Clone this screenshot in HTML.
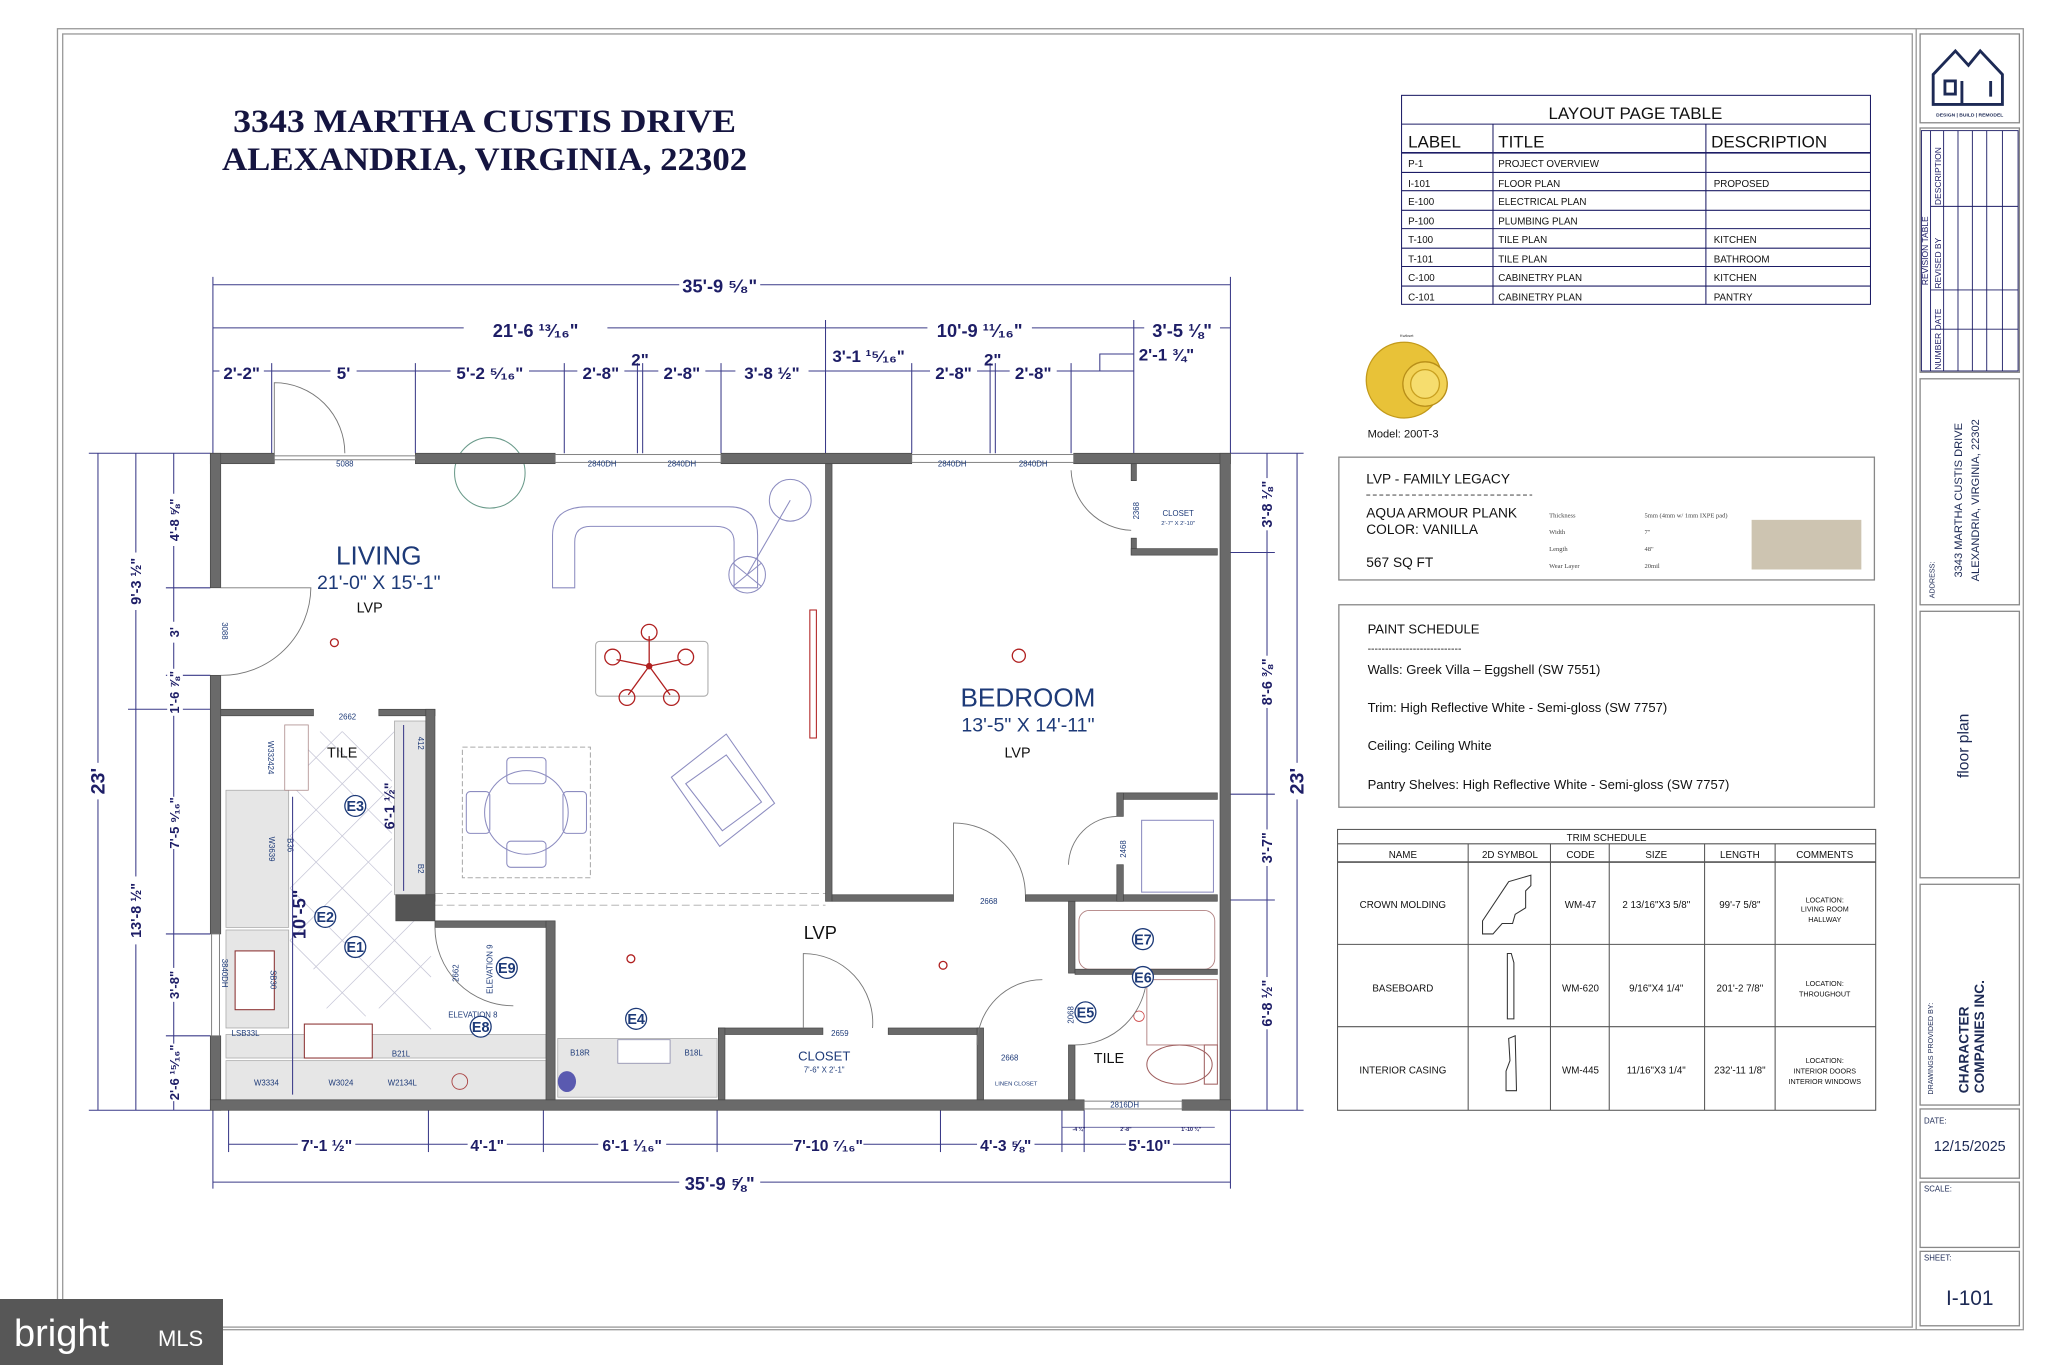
<!DOCTYPE html>
<html><head><meta charset="utf-8"><style>
html,body{margin:0;padding:0;background:#fff;width:2048px;height:1365px;overflow:hidden}
svg{display:block}
text{font-family:"Liberation Sans",sans-serif}
.serif{font-family:"Liberation Serif",serif}
.dim{font-family:"Liberation Sans Narrow","Liberation Sans",sans-serif;font-weight:bold;fill:#1d1d66}
.dl{stroke:#3a3a88;stroke-width:0.8;fill:none}
.w{fill:#6a6a6a;stroke:#444;stroke-width:0.5}
.f{fill:none;stroke:#8c8cc0;stroke-width:0.8}
.bl{fill:#1d3a78}
.sm{font-size:6px;fill:#1d3a78}
.tb{fill:none;stroke:#888;stroke-width:1}
</style></head><body>
<svg width="2048" height="1365" viewBox="0 0 2048 1365" xmlns="http://www.w3.org/2000/svg">
<rect width="2048" height="1365" fill="#fff"/>
<g transform="scale(1.3062)">
<rect x="44" y="22" width="1505" height="996" fill="none" stroke="#999" stroke-width="1"/>
<rect x="48" y="26" width="1416" height="990" fill="none" stroke="#999" stroke-width="1"/>
<line x1="1467" y1="22" x2="1467" y2="1018" stroke="#999"/>
<rect class="tb" x="1470" y="26" width="76" height="68"/>
<rect class="tb" x="1470" y="98" width="76" height="187"/>
<rect class="tb" x="1470" y="290" width="76" height="173"/>
<rect class="tb" x="1470" y="468" width="76" height="204"/>
<rect class="tb" x="1470" y="677" width="76" height="169"/>
<rect class="tb" x="1470" y="849" width="76" height="53"/>
<rect class="tb" x="1470" y="905" width="76" height="50"/>
<rect class="tb" x="1470" y="958" width="76" height="57"/>
<g fill="none" stroke="#1d2a55" stroke-width="2.2">
<path d="M1480 80 V57 L1497 39 L1507 50 L1516 39 L1533 57 V80 Z"/>
<path d="M1489 62 H1497 V72 H1489 Z M1502 62 V80 M1524 62 V74"/>
</g>
<text x="1508" y="89" font-size="3.8" text-anchor="middle" fill="#1d2a55" font-weight="bold">DESIGN | BUILD | REMODEL</text>
<g stroke="#1d1d66" stroke-width="0.7" fill="none">
<rect x="1471" y="100" width="74" height="184"/>
<line x1="1478" y1="100" x2="1478" y2="284"/><line x1="1488" y1="100" x2="1488" y2="284"/>
<line x1="1499" y1="100" x2="1499" y2="284"/><line x1="1510" y1="100" x2="1510" y2="284"/>
<line x1="1521" y1="100" x2="1521" y2="284"/><line x1="1533" y1="100" x2="1533" y2="284"/>
<line x1="1478" y1="158" x2="1545" y2="158"/><line x1="1478" y1="222" x2="1545" y2="222"/><line x1="1478" y1="252" x2="1545" y2="252"/>
</g>
<g font-size="6.5" fill="#1d1d66">
<text transform="translate(1476,192) rotate(-90)" text-anchor="middle">REVISION TABLE</text>
<text transform="translate(1486,283) rotate(-90)">NUMBER DATE</text>
<text transform="translate(1486,221) rotate(-90)">REVISED BY</text>
<text transform="translate(1486,157) rotate(-90)">DESCRIPTION</text>
</g>
<g fill="#1d2a55">
<text transform="translate(1481,458) rotate(-90)" font-size="5.5">ADDRESS:</text>
<text transform="translate(1502,383) rotate(-90)" font-size="8.5" text-anchor="middle">3343 MARTHA CUSTIS  DRIVE</text>
<text transform="translate(1515,383) rotate(-90)" font-size="8.5" text-anchor="middle">ALEXANDRIA, VIRGINIA, 22302</text>
<text transform="translate(1507,571) rotate(-90)" font-size="12" text-anchor="middle">floor plan</text>
<text transform="translate(1480,838) rotate(-90)" font-size="5.5">DRAWINGS PROVIDED BY:</text>
<text transform="translate(1507,837) rotate(-90)" font-size="10.5" font-weight="bold">CHARACTER</text>
<text transform="translate(1519,837) rotate(-90)" font-size="10.5" font-weight="bold">COMPANIES INC.</text>
<text x="1473" y="860" font-size="6">DATE:</text>
<text x="1508" y="881" font-size="11" text-anchor="middle">12/15/2025</text>
<text x="1473" y="912" font-size="6">SCALE:</text>
<text x="1473" y="965" font-size="6">SHEET:</text>
<text x="1508" y="999" font-size="16" text-anchor="middle">I-101</text>
</g>
<text class="serif" x="371" y="101" font-size="25" font-weight="bold" fill="#151540" text-anchor="middle" textLength="385" lengthAdjust="spacingAndGlyphs">3343 MARTHA CUSTIS  DRIVE</text>
<text class="serif" x="371" y="130" font-size="25" font-weight="bold" fill="#151540" text-anchor="middle" textLength="402" lengthAdjust="spacingAndGlyphs">ALEXANDRIA, VIRGINIA, 22302</text>
<g stroke="#1d1d66" stroke-width="0.8" fill="none">
<rect x="1073" y="73" width="359" height="160"/>
<line x1="1073" y1="95" x2="1432" y2="95"/><line x1="1073" y1="117" x2="1432" y2="117" stroke-width="1.3"/>
<line x1="1143" y1="95" x2="1143" y2="233"/><line x1="1306" y1="95" x2="1306" y2="233"/>
<line x1="1073" y1="132" x2="1432" y2="132"/><line x1="1073" y1="146" x2="1432" y2="146"/><line x1="1073" y1="161" x2="1432" y2="161"/><line x1="1073" y1="175" x2="1432" y2="175"/><line x1="1073" y1="190" x2="1432" y2="190"/><line x1="1073" y1="204" x2="1432" y2="204"/><line x1="1073" y1="219" x2="1432" y2="219"/>
</g>
<g fill="#111">
<text x="1252" y="91" font-size="13" text-anchor="middle">LAYOUT PAGE TABLE</text>
<text x="1078" y="113" font-size="13">LABEL</text><text x="1147" y="113" font-size="13">TITLE</text><text x="1310" y="113" font-size="13">DESCRIPTION</text>
<g font-size="7.5">
<text x="1078" y="128">P-1</text><text x="1147" y="128">PROJECT OVERVIEW</text>
<text x="1078" y="143">I-101</text><text x="1147" y="143">FLOOR PLAN</text><text x="1312" y="143">PROPOSED</text>
<text x="1078" y="157">E-100</text><text x="1147" y="157">ELECTRICAL PLAN</text>
<text x="1078" y="172">P-100</text><text x="1147" y="172">PLUMBING PLAN</text>
<text x="1078" y="186">T-100</text><text x="1147" y="186">TILE PLAN</text><text x="1312" y="186">KITCHEN</text>
<text x="1078" y="201">T-101</text><text x="1147" y="201">TILE PLAN</text><text x="1312" y="201">BATHROOM</text>
<text x="1078" y="215">C-100</text><text x="1147" y="215">CABINETRY PLAN</text><text x="1312" y="215">KITCHEN</text>
<text x="1078" y="230">C-101</text><text x="1147" y="230">CABINETRY PLAN</text><text x="1312" y="230">PANTRY</text>
</g></g>
<text x="1077" y="258" font-size="3" text-anchor="middle" fill="#333">Kwikset</text>
<circle cx="1075" cy="291" r="29" fill="#e8c238" stroke="#c39a1a"/>
<circle cx="1091" cy="294" r="17" fill="#f2d256" stroke="#b88e18"/>
<circle cx="1091" cy="294" r="11" fill="#f6dd6e" stroke="#c9a020"/>
<text x="1047" y="335" font-size="8.5" fill="#111">Model: 200T-3</text>
<rect x="1025" y="350" width="410" height="94" fill="none" stroke="#888"/>
<g fill="#111">
<text x="1046" y="370" font-size="10.5">LVP - FAMILY LEGACY</text>
<line x1="1046" y1="379" x2="1173" y2="379" stroke="#777" stroke-dasharray="3,2"/>
<text x="1046" y="396" font-size="10.5">AQUA ARMOUR PLANK</text>
<text x="1046" y="409" font-size="10.5">COLOR: VANILLA</text>
<text x="1046" y="434" font-size="10.5">567 SQ FT</text>
<g font-size="5" fill="#444">
<text class="serif" x="1186" y="396">Thickness</text><text class="serif" x="1186" y="409">Width</text><text class="serif" x="1186" y="422">Length</text><text class="serif" x="1186" y="435">Wear Layer</text>
<text class="serif" x="1259" y="396">5mm (4mm w/ 1mm IXPE pad)</text><text class="serif" x="1259" y="409">7"</text><text class="serif" x="1259" y="422">48"</text><text class="serif" x="1259" y="435">20mil</text>
</g></g>
<rect x="1341" y="398" width="84" height="38" fill="#cdc4b1"/>
<rect x="1025" y="463" width="410" height="155" fill="none" stroke="#888"/>
<g fill="#111" font-size="10">
<text x="1047" y="485">PAINT SCHEDULE</text>
<text x="1047" y="499" font-size="8">---------------------------</text>
<text x="1047" y="516">Walls: Greek Villa – Eggshell (SW 7551)</text>
<text x="1047" y="545">Trim: High Reflective White - Semi-gloss (SW 7757)</text>
<text x="1047" y="574">Ceiling: Ceiling White</text>
<text x="1047" y="604">Pantry Shelves: High Reflective White - Semi-gloss (SW 7757)</text>
</g>
<g stroke="#555" stroke-width="0.8" fill="none">
<rect x="1024" y="635" width="412" height="215"/>
<line x1="1024" y1="646" x2="1436" y2="646"/><line x1="1024" y1="660" x2="1436" y2="660" stroke-width="1.2"/>
<line x1="1024" y1="723" x2="1436" y2="723"/><line x1="1024" y1="786" x2="1436" y2="786"/>
<line x1="1124" y1="646" x2="1124" y2="850"/><line x1="1187" y1="646" x2="1187" y2="850"/><line x1="1232" y1="646" x2="1232" y2="850"/><line x1="1305" y1="646" x2="1305" y2="850"/><line x1="1359" y1="646" x2="1359" y2="850"/>
<path d="M1135 715 L1135 705 L1155 675 L1172 670 L1172 678 L1168 682 L1168 695 L1160 700 L1158 707 L1150 707 L1143 715 Z" stroke="#333"/>
<path d="M1154 730 L1157 730 L1159 737 L1159 780 L1154 780 Z" stroke="#333"/>
<path d="M1153 835 L1153 820 L1156 812 L1155 795 L1160 793 L1161 835 Z" stroke="#333"/>
</g>
<g fill="#111" font-size="7.5" text-anchor="middle">
<text x="1230" y="644">TRIM SCHEDULE</text>
<text x="1074" y="657">NAME</text><text x="1156" y="657">2D SYMBOL</text><text x="1210" y="657">CODE</text><text x="1268" y="657">SIZE</text><text x="1332" y="657">LENGTH</text><text x="1397" y="657">COMMENTS</text>
<text x="1074" y="695">CROWN MOLDING</text><text x="1210" y="695">WM-47</text><text x="1268" y="695">2 13/16"X3 5/8"</text><text x="1332" y="695">99'-7 5/8"</text>
<text x="1074" y="759">BASEBOARD</text><text x="1210" y="759">WM-620</text><text x="1268" y="759">9/16"X4 1/4"</text><text x="1332" y="759">201'-2 7/8"</text>
<text x="1074" y="822">INTERIOR CASING</text><text x="1210" y="822">WM-445</text><text x="1268" y="822">11/16"X3 1/4"</text><text x="1332" y="822">232'-11 1/8"</text>
<g font-size="5.5"><text x="1397" y="691">LOCATION:</text><text x="1397" y="698">LIVING ROOM</text><text x="1397" y="706">HALLWAY</text>
<text x="1397" y="755">LOCATION:</text><text x="1397" y="763">THROUGHOUT</text>
<text x="1397" y="814">LOCATION:</text><text x="1397" y="822">INTERIOR DOORS</text><text x="1397" y="830">INTERIOR WINDOWS</text></g>
</g>

<g class="dl">
<line x1="163" y1="212" x2="163" y2="347"/><line x1="942" y1="212" x2="942" y2="347"/>
<line x1="163" y1="218" x2="942" y2="218"/>
<line x1="163" y1="251" x2="942" y2="251"/>
<line x1="632" y1="245" x2="632" y2="347"/><line x1="868" y1="245" x2="868" y2="347"/>
<line x1="163" y1="284" x2="868" y2="284"/>
<line x1="208" y1="278" x2="208" y2="347"/><line x1="318" y1="278" x2="318" y2="347"/><line x1="432" y1="278" x2="432" y2="347"/><line x1="488" y1="278" x2="488" y2="347"/><line x1="492" y1="278" x2="492" y2="347"/><line x1="552" y1="278" x2="552" y2="347"/><line x1="698" y1="278" x2="698" y2="347"/><line x1="758" y1="278" x2="758" y2="347"/><line x1="762" y1="278" x2="762" y2="347"/><line x1="820" y1="278" x2="820" y2="347"/>
<path d="M842 284 V271 H868"/>
</g>
<g class="dim" text-anchor="middle">
<rect x="520" y="210" width="62" height="16" fill="#fff"/>
<text x="551" y="224" font-size="14">35'-9 ⁵⁄₈"</text>
<rect x="355" y="243" width="110" height="16" fill="#fff"/>
<text x="410" y="258" font-size="14">21'-6 ¹³⁄₁₆"</text>
<rect x="710" y="243" width="80" height="16" fill="#fff"/>
<text x="750" y="258" font-size="14">10'-9 ¹¹⁄₁₆"</text>
<rect x="876" y="243" width="58" height="16" fill="#fff"/>
<text x="905" y="258" font-size="14">3'-5 ⅛"</text>
<g font-size="13">
<rect x="168" y="276" width="34" height="14" fill="#fff"/><text x="185" y="290">2'-2"</text>
<rect x="253" y="276" width="20" height="14" fill="#fff"/><text x="263" y="290">5'</text>
<rect x="345" y="276" width="60" height="14" fill="#fff"/><text x="375" y="290">5'-2 ⁵⁄₁₆"</text>
<rect x="442" y="276" width="36" height="14" fill="#fff"/><text x="460" y="290">2'-8"</text>
<text x="490" y="280">2"</text>
<rect x="504" y="276" width="36" height="14" fill="#fff"/><text x="522" y="290">2'-8"</text>
<rect x="563" y="276" width="56" height="14" fill="#fff"/><text x="591" y="290">3'-8 ½"</text>
<text x="665" y="277">3'-1 ¹⁵⁄₁₆"</text>
<rect x="712" y="276" width="36" height="14" fill="#fff"/><text x="730" y="290">2'-8"</text>
<text x="760" y="280">2"</text>
<rect x="773" y="276" width="36" height="14" fill="#fff"/><text x="791" y="290">2'-8"</text>
<text x="893" y="276">2'-1 ¾"</text>
</g></g>
<g class="dl">
<line x1="68" y1="347" x2="161" y2="347"/><line x1="68" y1="850" x2="161" y2="850"/>
<line x1="75" y1="347" x2="75" y2="850"/>
<line x1="104" y1="347" x2="104" y2="850"/>
<line x1="133" y1="347" x2="133" y2="850"/>
<line x1="98" y1="543" x2="161" y2="543"/>
<line x1="127" y1="450" x2="161" y2="450"/><line x1="127" y1="517" x2="161" y2="517"/><line x1="127" y1="715" x2="161" y2="715"/><line x1="127" y1="793" x2="161" y2="793"/>
</g>
<g class="dim" text-anchor="middle">
<g transform="translate(80,598) rotate(-90)"><rect x="-14" y="-12" width="28" height="16" fill="#fff"/><text font-size="15">23'</text></g>
<g transform="translate(108,445) rotate(-90)"><rect x="-22" y="-10" width="44" height="14" fill="#fff"/><text font-size="11">9'-3 ½"</text></g>
<g transform="translate(108,697) rotate(-90)"><rect x="-26" y="-10" width="52" height="14" fill="#fff"/><text font-size="11">13'-8 ½"</text></g>
<g transform="translate(137,398) rotate(-90)"><rect x="-20" y="-9" width="40" height="12" fill="#fff"/><text font-size="10">4'-8 ⅝"</text></g>
<g transform="translate(137,484) rotate(-90)"><rect x="-8" y="-9" width="16" height="12" fill="#fff"/><text font-size="10">3'</text></g>
<g transform="translate(137,530) rotate(-90)"><rect x="-18" y="-9" width="36" height="12" fill="#fff"/><text font-size="10">1'-6 ⅞"</text></g>
<g transform="translate(137,630) rotate(-90)"><rect x="-20" y="-9" width="40" height="12" fill="#fff"/><text font-size="10">7'-5 ⁹⁄₁₆"</text></g>
<g transform="translate(137,754) rotate(-90)"><rect x="-13" y="-9" width="26" height="12" fill="#fff"/><text font-size="10">3'-8"</text></g>
<g transform="translate(137,821) rotate(-90)"><rect x="-22" y="-9" width="44" height="12" fill="#fff"/><text font-size="10">2'-6 ¹⁵⁄₁₆"</text></g>
</g>
<g class="dl">
<line x1="942" y1="347" x2="998" y2="347"/><line x1="942" y1="850" x2="998" y2="850"/>
<line x1="970" y1="347" x2="970" y2="850"/><line x1="993" y1="347" x2="993" y2="850"/>
<line x1="942" y1="423" x2="976" y2="423"/><line x1="942" y1="608" x2="976" y2="608"/><line x1="942" y1="689" x2="976" y2="689"/>
</g>
<g class="dim" text-anchor="middle">
<g transform="translate(974,386) rotate(-90)"><rect x="-20" y="-9" width="40" height="12" fill="#fff"/><text font-size="11">3'-8 ⅛"</text></g>
<g transform="translate(974,522) rotate(-90)"><rect x="-20" y="-9" width="40" height="12" fill="#fff"/><text font-size="11">8'-6 ⅜"</text></g>
<g transform="translate(974,649) rotate(-90)"><rect x="-14" y="-9" width="28" height="12" fill="#fff"/><text font-size="11">3'-7"</text></g>
<g transform="translate(974,768) rotate(-90)"><rect x="-20" y="-9" width="40" height="12" fill="#fff"/><text font-size="11">6'-8 ½"</text></g>
<g transform="translate(998,598) rotate(-90)"><rect x="-14" y="-12" width="28" height="16" fill="#fff"/><text font-size="15">23'</text></g>
</g>
<g class="dl">
<line x1="163" y1="850" x2="163" y2="910"/><line x1="942" y1="850" x2="942" y2="910"/>
<line x1="175" y1="876" x2="942" y2="876"/><line x1="163" y1="905" x2="942" y2="905"/>
<line x1="175" y1="850" x2="175" y2="882"/><line x1="328" y1="850" x2="328" y2="882"/><line x1="416" y1="850" x2="416" y2="882"/><line x1="549" y1="850" x2="549" y2="882"/><line x1="720" y1="850" x2="720" y2="882"/><line x1="813" y1="850" x2="813" y2="882"/><line x1="830" y1="850" x2="830" y2="882"/>
<line x1="813" y1="863" x2="930" y2="863" stroke-width="0.5"/>
</g>
<g class="dim" text-anchor="middle" font-size="12">
<rect x="228" y="869" width="44" height="14" fill="#fff"/><text x="250" y="881">7'-1 ½"</text>
<rect x="358" y="869" width="30" height="14" fill="#fff"/><text x="373" y="881">4'-1"</text>
<rect x="458" y="869" width="52" height="14" fill="#fff"/><text x="484" y="881">6'-1 ¹⁄₁₆"</text>
<rect x="607" y="869" width="54" height="14" fill="#fff"/><text x="634" y="881">7'-10 ⁷⁄₁₆"</text>
<rect x="748" y="869" width="44" height="14" fill="#fff"/><text x="770" y="881">4'-3 ⅝"</text>
<rect x="862" y="869" width="36" height="14" fill="#fff"/><text x="880" y="881">5'-10"</text>
<rect x="520" y="897" width="62" height="16" fill="#fff"/><text x="551" y="911" font-size="14">35'-9 ⅝"</text>
<text x="826" y="866" font-size="4">-4 ¾"</text><text x="862" y="866" font-size="4">2'-8"</text><text x="912" y="866" font-size="4">1'-10 ¾"</text>
</g>

<g stroke="#c8c8d8" stroke-width="0.6">
<path d="M222 560 L300 638 M222 600 L300 678 M222 640 L330 748 M222 680 L330 788 M222 720 L280 778 M245 560 L300 615 M222 600 L262 560 M222 640 L302 560 M222 680 L300 602 M222 720 L300 642 M240 742 L300 682 M250 772 L330 692 M290 772 L330 732 M262 560 L300 598"/>
</g>
<g fill="#e6e6e6" stroke="#aaa" stroke-width="0.6">
<rect x="173" y="605" width="48" height="105"/>
<rect x="173" y="712" width="48" height="75"/>
<rect x="173" y="792" width="245" height="18"/>
<rect x="173" y="812" width="245" height="30"/>
<rect x="302" y="552" width="24" height="133"/>
<rect x="427" y="795" width="122" height="45"/>
</g>
<rect x="218" y="555" width="18" height="50" fill="#fff" stroke="#a88" stroke-width="0.6"/>
<rect x="180" y="728" width="30" height="45" fill="#fff" stroke="#8a3030" stroke-width="0.8"/>
<rect x="233" y="784" width="52" height="26" fill="#fff" stroke="#8a3030" stroke-width="0.8"/>
<rect x="473" y="796" width="40" height="18" fill="#fff" stroke="#88a" stroke-width="0.6"/>
<ellipse cx="434" cy="828" rx="7" ry="8" fill="#5a5ab0"/>
<circle cx="352" cy="828" r="6" fill="none" stroke="#a44" stroke-width="0.7"/>
<rect x="826" y="697" width="104" height="45" rx="8" fill="none" stroke="#b08080" stroke-width="0.7"/>
<rect x="878" y="750" width="54" height="50" fill="none" stroke="#b08080" stroke-width="0.7"/>
<ellipse cx="903" cy="815" rx="25" ry="15" fill="none" stroke="#a06060" stroke-width="0.8"/>
<rect x="922" y="800" width="10" height="30" fill="none" stroke="#a06060" stroke-width="0.8"/>
<circle cx="872" cy="778" r="4" fill="none" stroke="#c44" stroke-width="0.6"/>

<g class="f">
<path d="M423 450 V410 Q423 388 450 388 H558 Q580 388 580 410 V450 H562 V415 Q562 403 548 403 H452 Q440 403 440 415 V450 Z"/>
<circle cx="605" cy="383" r="16"/><line x1="605" y1="383" x2="572" y2="440"/>
<circle cx="572" cy="440" r="14"/><line x1="561" y1="431" x2="583" y2="449"/><line x1="583" y1="431" x2="561" y2="449"/>
<rect x="456" y="491" width="86" height="42" rx="3" stroke="#aaa"/>
<rect x="354" y="572" width="98" height="100" stroke-dasharray="4,2" stroke="#aaa"/>
<circle cx="403" cy="622" r="32"/>
<rect x="388" y="580" width="30" height="20" rx="3"/><rect x="388" y="644" width="30" height="20" rx="3"/>
<rect x="357" y="606" width="18" height="32" rx="3"/><rect x="431" y="606" width="18" height="32" rx="3"/>
<path d="M514 595 L556 562 L593 615 L551 648 Z"/><path d="M525 600 L556 578 L583 614 L553 636 Z"/>
<circle cx="375" cy="362" r="27" stroke="#6a9a8a"/>
<rect x="874" y="628" width="55" height="55"/>
</g>
<g stroke="#b02020" fill="none" stroke-width="1">
<line x1="497" y1="510" x2="497" y2="487"/><line x1="497" y1="510" x2="472" y2="505"/><line x1="497" y1="510" x2="521" y2="505"/><line x1="497" y1="510" x2="481" y2="532"/><line x1="497" y1="510" x2="513" y2="532"/>
<circle cx="497" cy="484" r="6"/><circle cx="469" cy="503" r="6"/><circle cx="525" cy="503" r="6"/><circle cx="480" cy="534" r="6"/><circle cx="514" cy="534" r="6"/>
<circle cx="497" cy="510" r="2" fill="#b02020"/>
<rect x="620" y="467" width="5" height="98" stroke-width="0.8"/>
<circle cx="256" cy="492" r="3"/><circle cx="780" cy="502" r="5"/>
<circle cx="483" cy="734" r="3"/><circle cx="722" cy="739" r="3"/>
</g>
<g stroke="#aaa" stroke-width="0.7" stroke-dasharray="6,3"><line x1="333" y1="684" x2="632" y2="684"/><line x1="333" y1="693" x2="632" y2="693"/></g>

<g class="w">
<rect x="161" y="347" width="49" height="8"/>
<rect x="318" y="347" width="107" height="8"/>
<rect x="552" y="347" width="146" height="8"/>
<rect x="822" y="347" width="120" height="8"/>
<rect x="161" y="347" width="8" height="103"/>
<rect x="161" y="517" width="8" height="198"/>
<rect x="161" y="793" width="8" height="57"/>
<rect x="934" y="347" width="8" height="503"/>
<rect x="161" y="842" width="669" height="8"/>
<rect x="905" y="842" width="37" height="8"/>
<rect x="632" y="355" width="5" height="335"/>
<rect x="637" y="685" width="93" height="5"/>
<rect x="785" y="685" width="147" height="5"/>
<rect x="866" y="355" width="4" height="13"/><rect x="866" y="412" width="4" height="13"/><rect x="866" y="420" width="66" height="5"/>
<rect x="855" y="607" width="77" height="5"/><rect x="855" y="607" width="5" height="18"/><rect x="855" y="662" width="5" height="28"/>
<rect x="169" y="543" width="71" height="5"/><rect x="290" y="543" width="43" height="5"/>
<rect x="326" y="543" width="7" height="147"/>
<rect x="303" y="685" width="30" height="20" fill="#555"/>
<rect x="333" y="705" width="92" height="5"/>
<rect x="418" y="705" width="7" height="137"/>
<rect x="550" y="787" width="80" height="5"/><rect x="680" y="787" width="70" height="5"/>
<rect x="550" y="787" width="5" height="55"/><rect x="748" y="787" width="5" height="55"/>
<rect x="818" y="690" width="5" height="55"/><rect x="818" y="800" width="5" height="42"/>
<rect x="823" y="742" width="109" height="4"/>
</g>
<g stroke="#777" stroke-width="0.7" fill="#fff">
<rect x="425" y="348" width="127" height="6"/><rect x="698" y="348" width="124" height="6"/>
<rect x="162" y="715" width="6" height="78"/><rect x="830" y="843" width="75" height="6"/>
<rect x="210" y="349" width="108" height="3"/>
</g>
<g fill="none" stroke="#777" stroke-width="0.7">
<path d="M210 347 V293 A54 54 0 0 1 264 347"/>
<path d="M169 450 H238 A68 68 0 0 1 169 517"/>
<path d="M820 360 A48 48 0 0 0 866 406"/>
<path d="M730 685 V630 A55 55 0 0 1 785 685"/>
<path d="M855 625 A38 38 0 0 0 818 662"/>
<path d="M615 787 V730 A53 53 0 0 1 668 787"/>
<path d="M748 800 A50 50 0 0 1 798 750"/>
<path d="M823 800 A55 55 0 0 0 878 746"/>
<path d="M333 710 A60 60 0 0 0 393 770"/>
</g>
<g class="sm" text-anchor="middle">
<text x="264" y="357">5088</text>
<text x="461" y="357">2840DH</text><text x="522" y="357">2840DH</text>
<text x="729" y="357">2840DH</text><text x="791" y="357">2840DH</text>
<text x="266" y="551">2662</text>
<text x="861" y="848">2816DH</text>
<text x="757" y="692">2668</text>
<text x="643" y="793">2659</text>
<text x="773" y="812">2668</text>
<text x="188" y="793">LSB33L</text>
<text x="307" y="809">B21L</text>
<text x="444" y="808">B18R</text><text x="531" y="808">B18L</text>
<text x="204" y="831">W3334</text><text x="261" y="831">W3024</text><text x="308" y="831">W2134L</text>
<text x="362" y="779">ELEVATION 8</text>
<text x="778" y="831" font-size="4.5">LINEN CLOSET</text>
<text x="902" y="395">CLOSET</text><text x="902" y="402" font-size="4.5">2'-7" X 2'-10"</text>
<text transform="translate(170,483) rotate(90)">3088</text>
<text transform="translate(872,391) rotate(-90)">2368</text>
<text transform="translate(862,650) rotate(-90)">2468</text>
<text transform="translate(351,745) rotate(-90)">2662</text>
<text transform="translate(205,580) rotate(90)">W332424</text>
<text transform="translate(206,650) rotate(90)">W3639</text>
<text transform="translate(220,647) rotate(90)">B36</text>
<text transform="translate(170,745) rotate(90)">3840DH</text>
<text transform="translate(207,750) rotate(90)">SB30</text>
<text transform="translate(320,569) rotate(90)">412</text>
<text transform="translate(320,665) rotate(90)">B2</text>
<text transform="translate(377,742) rotate(-90)">ELEVATION 9</text>
<text transform="translate(822,777) rotate(-90)">2068</text>
</g>
<g font-size="11" font-weight="bold" fill="#1d3a78" text-anchor="middle">
<g stroke="#1d3a78" stroke-width="1" fill="#fff">
<circle cx="272" cy="617" r="8"/><circle cx="249" cy="702" r="8"/><circle cx="272" cy="725" r="8"/>
<circle cx="388" cy="741" r="8"/><circle cx="368" cy="786" r="8"/><circle cx="487" cy="780" r="8"/>
<circle cx="875" cy="719" r="8"/><circle cx="875" cy="748" r="8"/><circle cx="831" cy="775" r="8"/>
</g>
<text x="272" y="621">E3</text><text x="249" y="706">E2</text><text x="272" y="729">E1</text>
<text x="388" y="745">E9</text><text x="368" y="790">E8</text><text x="487" y="784">E4</text>
<text x="875" y="723">E7</text><text x="875" y="752">E6</text><text x="831" y="779">E5</text>
</g>
<g class="bl" text-anchor="middle">
<text x="290" y="432" font-size="20">LIVING</text>
<text x="290" y="451" font-size="15">21'-0" X 15'-1"</text>
<text x="787" y="541" font-size="20">BEDROOM</text>
<text x="787" y="560" font-size="15">13'-5" X 14'-11"</text>
<text x="631" y="812" font-size="10">CLOSET</text>
<text x="631" y="821" font-size="6">7'-6" X 2'-1"</text>
</g>
<g fill="#111" text-anchor="middle">
<text x="283" y="469" font-size="11">LVP</text>
<text x="779" y="580" font-size="11">LVP</text>
<text x="628" y="719" font-size="14">LVP</text>
<text x="262" y="580" font-size="11">TILE</text>
<text x="849" y="814" font-size="11">TILE</text>
</g>
<g class="dim" text-anchor="middle">
<text transform="translate(234,700) rotate(-90)" font-size="14">10'-5"</text>
<text transform="translate(302,617) rotate(-90)" font-size="11">6'-1 ½"</text>
</g>
<line x1="309" y1="555" x2="309" y2="682" class="dl"/>
<line x1="224" y1="610" x2="224" y2="838" class="dl"/>
</g>
<rect x="0" y="1299" width="223" height="66" fill="#575757"/>
<text x="14" y="1346" font-size="38" fill="#fff">bright</text>
<text x="158" y="1346" font-size="22" fill="#fff">MLS</text>
</svg>
</body></html>
